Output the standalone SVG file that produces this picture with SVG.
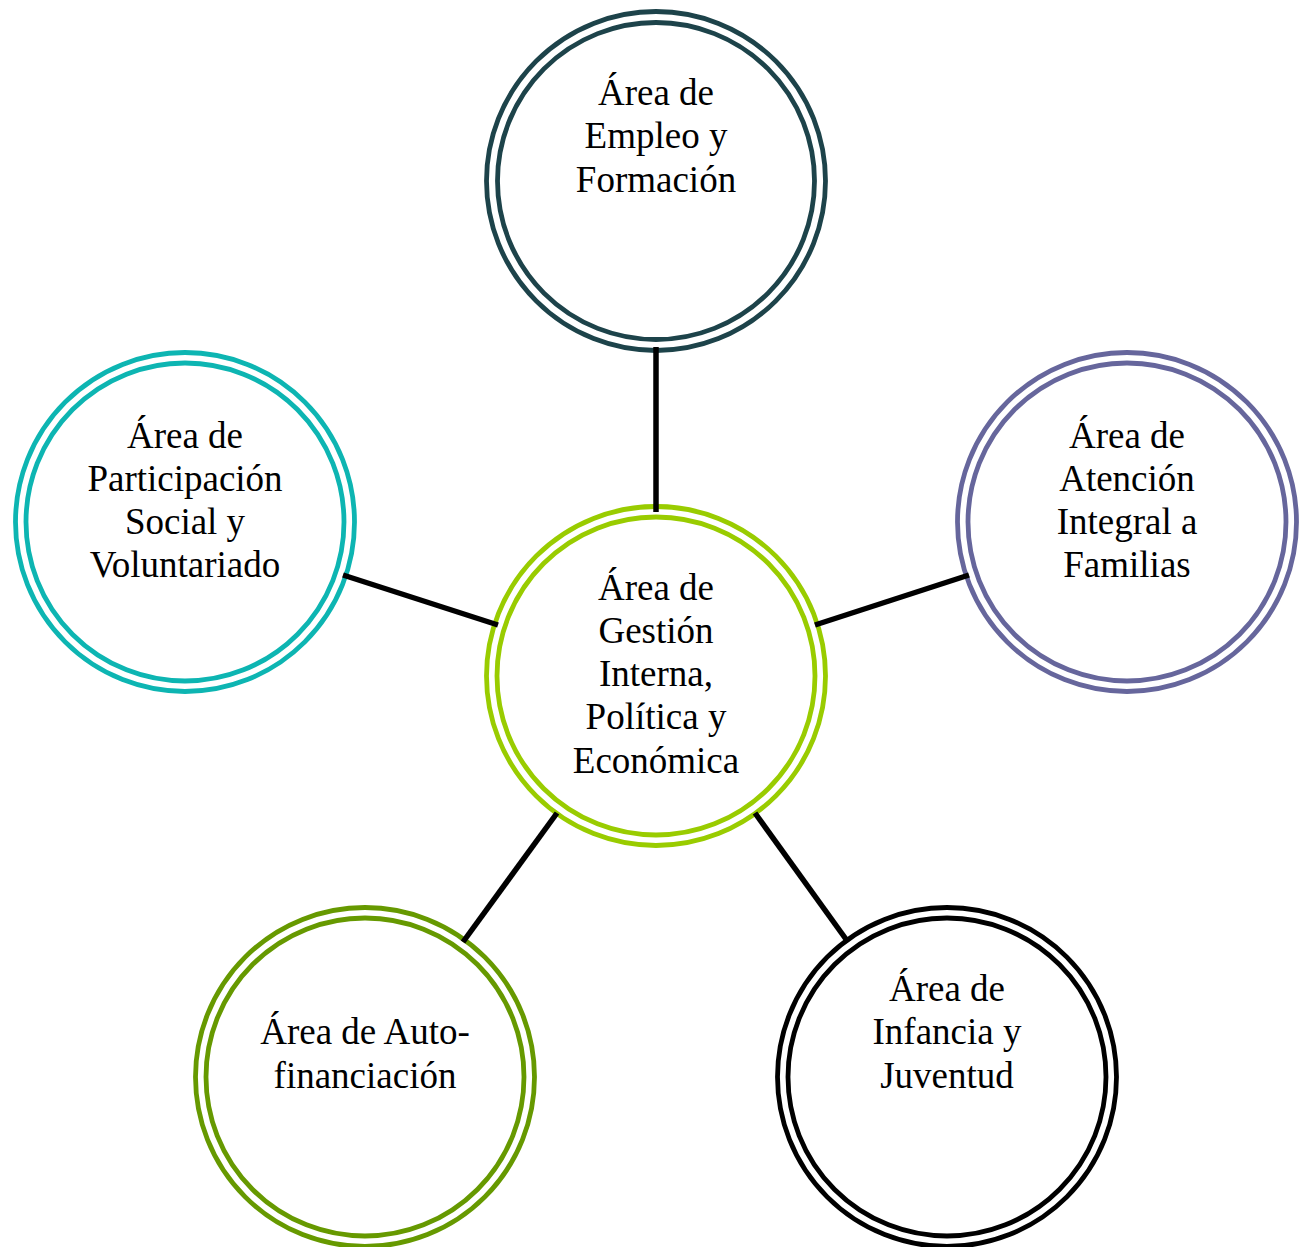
<svg xmlns="http://www.w3.org/2000/svg" width="1308" height="1247" viewBox="0 0 1308 1247">
<style>
.ring{fill:none;stroke-width:4.8}
.lbl{font-family:"Liberation Serif","Times New Roman",serif;font-size:37px;fill:#000;text-anchor:middle}
.conn{stroke:#000;stroke-width:5.5;fill:none}
</style>
<rect width="1308" height="1247" fill="#fff"/>
<g id="n-empleo">
<circle class="ring" cx="656" cy="181" r="169.5" stroke="#1D434A"/>
<circle class="ring" cx="656" cy="181" r="158.5" stroke="#1D434A"/>
<text class="lbl" x="656"><tspan x="656" y="105">Área de</tspan><tspan x="656" y="148">Empleo y</tspan><tspan x="656" y="192">Formación</tspan></text>
</g>
<g id="n-gestion">
<circle class="ring" cx="656" cy="676" r="169.5" stroke="#99CC00"/>
<circle class="ring" cx="656" cy="676" r="159" stroke="#99CC00"/>
<text class="lbl"><tspan x="656" y="600">Área de</tspan><tspan x="656" y="643">Gestión</tspan><tspan x="656" y="686">Interna,</tspan><tspan x="656" y="729">Política y</tspan><tspan x="656" y="773">Económica</tspan></text>
</g>
<g id="n-familias">
<circle class="ring" cx="1127" cy="522" r="169.5" stroke="#66669C"/>
<circle class="ring" cx="1127" cy="522" r="159" stroke="#66669C"/>
<text class="lbl"><tspan x="1127" y="448">Área de</tspan><tspan x="1127" y="491">Atención</tspan><tspan x="1127" y="534">Integral a</tspan><tspan x="1127" y="577">Familias</tspan></text>
</g>
<g id="n-participacion">
<circle class="ring" cx="185" cy="522" r="169.5" stroke="#0DB5B2"/>
<circle class="ring" cx="185" cy="522" r="159" stroke="#0DB5B2"/>
<text class="lbl"><tspan x="185" y="448">Área de</tspan><tspan x="185" y="491">Participación</tspan><tspan x="185" y="534">Social y</tspan><tspan x="185" y="577">Voluntariado</tspan></text>
</g>
<g id="n-autofinanciacion">
<circle class="ring" cx="365" cy="1077" r="169.5" stroke="#669900"/>
<circle class="ring" cx="365" cy="1077" r="159" stroke="#669900"/>
<text class="lbl"><tspan x="365" y="1044">Área de Auto-</tspan><tspan x="365" y="1088">financiación</tspan></text>
</g>
<g id="n-infancia">
<circle class="ring" cx="947" cy="1077" r="169.5" stroke="#000000"/>
<circle class="ring" cx="947" cy="1077" r="159" stroke="#000000"/>
<text class="lbl"><tspan x="947" y="1001">Área de</tspan><tspan x="947" y="1044">Infancia y</tspan><tspan x="947" y="1088">Juventud</tspan></text>
</g>
<g id="connectors">
<line class="conn" x1="656" y1="347" x2="656" y2="512"/>
<line class="conn" x1="343" y1="575" x2="498" y2="625"/>
<line class="conn" x1="815" y1="625" x2="969" y2="575"/>
<line class="conn" x1="557" y1="813" x2="463" y2="942"/>
<line class="conn" x1="755" y1="813" x2="848" y2="942"/>
</g>
</svg>
